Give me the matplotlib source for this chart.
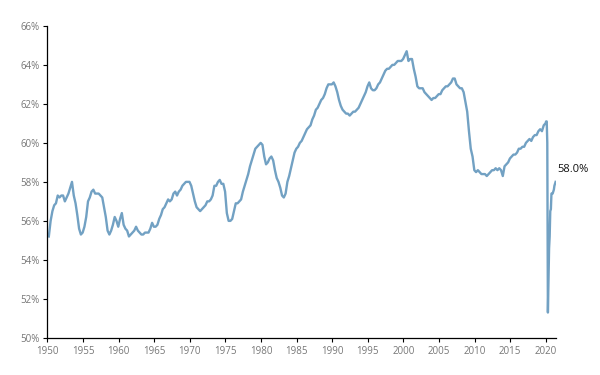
import matplotlib
matplotlib.use("Agg")
import matplotlib.pyplot as plt
import matplotlib.dates as mdates
import matplotlib.ticker as mticker
import numpy as np
import pandas as pd

plt.rcParams['font.family'] = ['Open Sans', 'DejaVu Sans']

# employment-population ratio, quarterly readings 1950-2019 (%)
quarterly_values = [
    55.2, 56.0, 56.5, 56.8,  # 1950
    56.9, 57.3, 57.2, 57.3,
    57.3, 57.0, 57.2, 57.4,
    57.7, 58.0, 57.3, 56.9,
    56.3, 55.6, 55.3, 55.4,
    55.7, 56.2, 57.0, 57.2,  # 1955
    57.5, 57.6, 57.4, 57.4,
    57.4, 57.3, 57.2, 56.7,
    56.2, 55.5, 55.3, 55.5,
    55.8, 56.2, 56.0, 55.7,
    56.1, 56.4, 55.8, 55.6,  # 1960
    55.5, 55.2, 55.3, 55.4,
    55.5, 55.7, 55.5, 55.4,
    55.3, 55.3, 55.4, 55.4,
    55.4, 55.6, 55.9, 55.7,
    55.7, 55.8, 56.1, 56.3,  # 1965
    56.6, 56.7, 56.9, 57.1,
    57.0, 57.1, 57.4, 57.5,
    57.3, 57.5, 57.6, 57.8,
    57.9, 58.0, 58.0, 58.0,
    57.8, 57.4, 57.0, 56.7,  # 1970
    56.6, 56.5, 56.6, 56.7,
    56.8, 57.0, 57.0, 57.1,
    57.3, 57.8, 57.8, 58.0,
    58.1, 57.9, 57.9, 57.5,
    56.4, 56.0, 56.0, 56.1,  # 1975
    56.5, 56.9, 56.9, 57.0,
    57.1, 57.5, 57.8, 58.1,
    58.4, 58.8, 59.1, 59.4,
    59.7, 59.8, 59.9, 60.0,
    59.9, 59.3, 58.9, 59.0,  # 1980
    59.2, 59.3, 59.1, 58.6,
    58.2, 58.0, 57.7, 57.3,
    57.2, 57.4, 58.0, 58.3,
    58.7, 59.1, 59.5, 59.7,
    59.8, 60.0, 60.1, 60.3,  # 1985
    60.5, 60.7, 60.8, 60.9,
    61.2, 61.4, 61.7, 61.8,
    62.0, 62.2, 62.3, 62.5,
    62.8, 63.0, 63.0, 63.0,
    63.1, 62.9, 62.6, 62.2,  # 1990
    61.9, 61.7, 61.6, 61.5,
    61.5, 61.4, 61.5, 61.6,
    61.6, 61.7, 61.8, 62.0,
    62.2, 62.4, 62.6, 62.9,
    63.1, 62.8, 62.7, 62.7,  # 1995
    62.8, 63.0, 63.1, 63.3,
    63.5, 63.7, 63.8, 63.8,
    63.9, 64.0, 64.0, 64.1,
    64.2, 64.2, 64.2, 64.3,
    64.5, 64.7, 64.2, 64.3,  # 2000
    64.3, 63.8, 63.4, 62.9,
    62.8, 62.8, 62.8, 62.6,
    62.5, 62.4, 62.3, 62.2,
    62.3, 62.3, 62.4, 62.5,
    62.5, 62.7, 62.8, 62.9,  # 2005
    62.9, 63.0, 63.1, 63.3,
    63.3, 63.0, 62.9, 62.8,
    62.8, 62.6, 62.1, 61.6,
    60.6, 59.7, 59.3, 58.6,
    58.5, 58.6, 58.5, 58.4,  # 2010
    58.4, 58.4, 58.3, 58.4,
    58.5, 58.6, 58.6, 58.7,
    58.6, 58.7, 58.6, 58.3,
    58.8, 58.9, 59.0, 59.2,
    59.3, 59.4, 59.4, 59.5,  # 2015
    59.7, 59.7, 59.8, 59.8,
    60.0, 60.1, 60.2, 60.1,
    60.3, 60.4, 60.4, 60.6,
    60.7, 60.6, 60.9, 61.0,
]

# monthly readings Jan 2020 - May 2021 (%)
monthly_values = [
    61.1, 61.1, 60.0, 51.3, 52.8, 54.6, 55.2, 56.5, 56.6, 57.4, 57.4, 57.4,
    57.5, 57.6, 57.8, 57.9, 58.0,
]

q_dates = pd.date_range('1950-02-15', periods=len(quarterly_values), freq='3MS') + pd.Timedelta(days=14)
m_dates = pd.date_range('2020-01-01', periods=len(monthly_values), freq='MS') + pd.Timedelta(days=14)

dates = q_dates.append(m_dates)
values = np.array(quarterly_values + monthly_values)

fig = plt.figure(figsize=(6, 3.75), dpi=100)
ax = fig.add_axes([0.079, 0.099, 0.848, 0.832])

ax.plot(dates, values, color='#72a1c3', linewidth=1.7)

ax.set_ylim(50, 66)
ax.set_xlim(pd.Timestamp('1950-01-01'), pd.Timestamp('2021-06-15'))
ax.yaxis.set_major_locator(mticker.MultipleLocator(2))
ax.yaxis.set_major_formatter(mticker.FuncFormatter(lambda v, p: '{:.0f}%'.format(v)))
ax.xaxis.set_major_locator(mdates.YearLocator(5))
ax.xaxis.set_major_formatter(mdates.DateFormatter('%Y'))

for s in ['top', 'right']:
    ax.spines[s].set_visible(False)
for s in ['left', 'bottom']:
    ax.spines[s].set_linewidth(0.9)
ax.tick_params(axis='both', labelsize=7, labelcolor='#777777', length=3, width=0.8, direction='out', pad=2.5)

ax.annotate('{:.1f}%'.format(values[-1]), xy=(dates[-1], values[-1]),
            xytext=(1, 9), textcoords='offset points', fontsize=8,
            color='#111111', fontweight='medium', va='center', ha='left',
            annotation_clip=False)

fig.savefig('out.png', dpi=100)
